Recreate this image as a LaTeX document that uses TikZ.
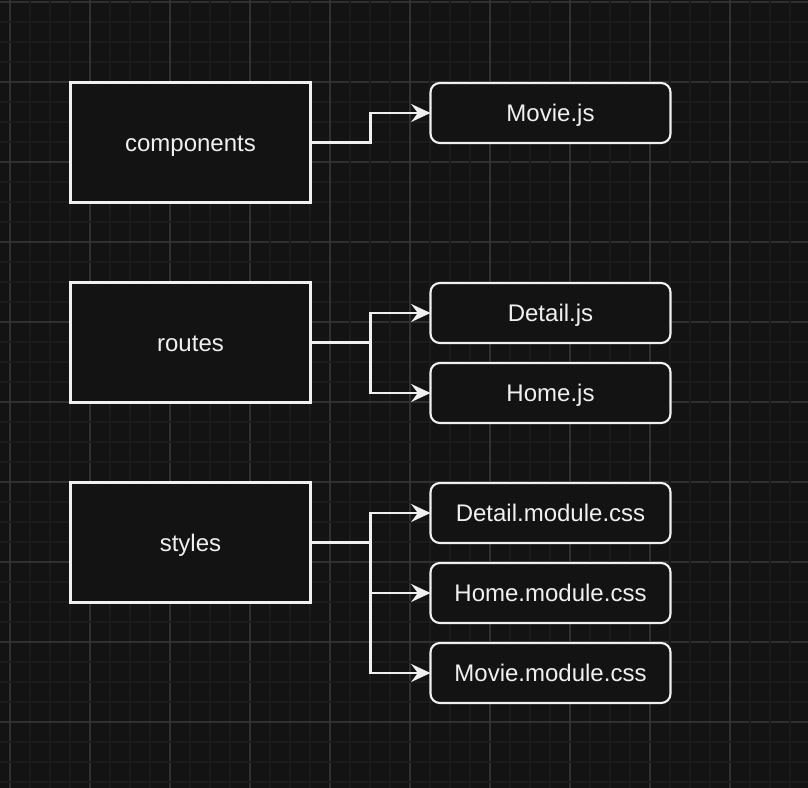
\documentclass[tikz,border=0pt]{standalone}
\usepackage{fontspec}
\setmainfont{Liberation Sans}
\usetikzlibrary{arrows.meta}
\definecolor{bg}{HTML}{131313}
\definecolor{minorgrid}{HTML}{1B1B1B}
\definecolor{majorgrid}{HTML}{303030}
\definecolor{fg}{HTML}{F0F0F0}
\begin{document}
\begin{tikzpicture}[x=0.75pt,y=-0.75pt,
  label/.style={text=fg,font=\fontsize{18}{21}\selectfont,text height=12.9pt,text depth=0pt},
  folder/.style={label,draw=fg,fill=bg,line width=1.7pt,minimum width=180pt,minimum height=90pt,inner sep=0pt,outer sep=0pt},
  filebox/.style={label,draw=fg,fill=bg,line width=1.6pt,rounded corners=7pt,minimum width=180pt,minimum height=45pt,inner sep=0pt,outer sep=0pt},
  conn/.style={draw=fg,line width=1.6pt,-{Stealth[length=14.5pt,width=13.5pt,inset=5pt]}}]
\useasboundingbox (0,0) rectangle (808,788);
\fill[bg] (0,0) rectangle (808,788);
\foreach \k in {0,...,39}{
  \pgfmathtruncatemacro{\m}{mod(\k,4)}
  \ifnum\m=0
    \draw[majorgrid,line width=1pt] (10+20*\k,0) -- (10+20*\k,788);
    \draw[majorgrid,line width=1pt] (0,2+20*\k) -- (808,2+20*\k);
  \else
    \draw[minorgrid,line width=1.2pt] (10+20*\k,0) -- (10+20*\k,788);
    \draw[minorgrid,line width=1.2pt] (0,2+20*\k) -- (808,2+20*\k);
  \fi
}
\node[folder] (comp) at (190.5,142.5) {components};
\node[folder] (routes) at (190.5,342.5) {routes};
\node[folder] (styles) at (190.5,542.5) {styles};
\node[filebox] (movie) at (550.5,113) {Movie.js};
\node[filebox] (detail) at (550.5,313) {Detail.js};
\node[filebox] (home) at (550.5,393) {Home.js};
\node[filebox] (detailcss) at (550.5,513) {Detail.module.css};
\node[filebox] (homecss) at (550.5,593) {Home.module.css};
\node[filebox] (moviecss) at (550.5,673) {Movie.module.css};
\draw[conn] (comp.east) -- ++(60,0) |- (movie.west);
\draw[conn] (routes.east) -- ++(60,0) |- (detail.west);
\draw[conn] (routes.east) -- ++(60,0) |- (home.west);
\draw[conn] (styles.east) -- ++(60,0) |- (detailcss.west);
\draw[conn] (styles.east) -- ++(60,0) |- (homecss.west);
\draw[conn] (styles.east) -- ++(60,0) |- (moviecss.west);
\end{tikzpicture}
\end{document}
